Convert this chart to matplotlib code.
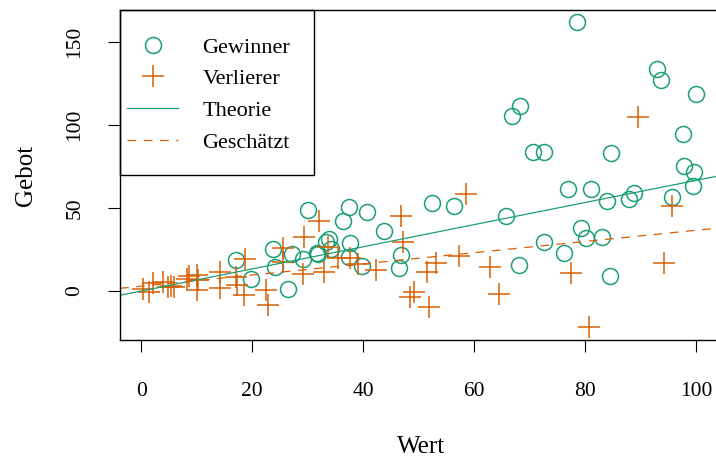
import matplotlib
matplotlib.use("Agg")
import matplotlib.pyplot as plt
from matplotlib.patches import Rectangle
import numpy as np

plt.rcParams['font.family'] = ['Liberation Serif', 'DejaVu Serif']

GREEN = '#1b9e77'
ORANGE = '#d95f02'

# Gewinner (winners): value, bid
win_x = [78.5, 93.0, 93.6, 100.0, 68.2, 66.9, 97.6, 70.6, 72.6, 84.6, 97.8, 99.6,
         76.9, 81.0, 84.0, 87.9, 88.8, 95.7, 99.4, 65.8, 52.5, 56.4, 30.0, 37.5,
         40.7, 36.3, 43.7, 33.9, 33.4, 34.2, 37.7, 31.9, 37.4, 39.8, 46.8, 46.5,
         68.0, 17.1, 19.8, 23.8, 24.1, 27.2, 29.1, 31.7, 26.4, 79.3, 80.2, 83.1,
         72.6, 76.2, 84.5]
win_y = [162.2, 133.5, 126.9, 118.9, 111.6, 105.4, 94.4, 83.6, 83.6, 83.0, 75.5, 71.9,
         61.3, 61.3, 54.2, 55.2, 59.2, 56.4, 63.3, 45.4, 53.0, 51.0, 48.8, 50.4,
         47.8, 42.4, 36.3, 31.3, 29.3, 25.1, 29.1, 22.1, 20.7, 15.2, 21.5, 13.7,
         15.7, 18.5, 7.2, 25.1, 14.6, 22.3, 19.3, 23.1, 1.0, 38.1, 31.9, 32.7,
         29.5, 23.1, 9.2]

# Verlierer (losers): value, bid
los_x = [0.3, 1.5, 2.2, 3.9, 4.9, 5.3, 5.9, 8.2, 8.7, 10.0, 10.1, 10.2, 14.2, 14.2,
         17.1, 17.2, 18.7, 18.6, 22.5, 22.8, 25.6, 25.6, 29.4, 32.1, 29.1, 33.0,
         33.6, 35.5, 37.7, 39.0, 42.3, 46.8, 47.2, 49.1, 48.5, 51.9, 51.5, 53.2,
         57.3, 58.6, 62.9, 64.4, 77.5, 80.7, 89.5, 94.3, 95.7]
los_y = [1.0, -0.4, 4.6, 5.2, 2.2, 3.2, 2.2, 7.0, 9.0, 9.6, 0.6, 6.6, 11.6, 1.6,
         8.6, 3.6, 19.4, -2.6, 0.6, -8.2, 25.8, 17.7, 32.7, 42.2, 10.5, 11.6,
         26.7, 19.7, 19.7, 16.0, 12.7, 45.2, 29.7, -0.4, -3.4, -9.5, 11.6, 16.7,
         21.1, 58.3, 14.6, -1.8, 10.7, -21.9, 104.6, 17.0, 51.2]

# lines: theory (2/3 of value) and estimated regression
theory_slope, theory_icpt = 2 / 3, 0.0
est_slope, est_icpt = 0.337, 2.9

W, H = 716, 459
fig = plt.figure(figsize=(W / 100, H / 100), dpi=100)
ax = fig.add_axes([120 / W, (H - 340) / H, 600 / W, 330 / H])

ax.plot(win_x, win_y, 'o', ls='none', ms=11.5, mfc='none', mec=GREEN, mew=1.1,
        label='Gewinner')
ax.plot(los_x, los_y, '+', ls='none', ms=16, mec=ORANGE, mew=1.1,
        label='Verlierer')
ax.axline((0, theory_icpt), slope=theory_slope, color=GREEN, lw=0.9, label='Theorie')
ax.axline((0, est_icpt), slope=est_slope, color=ORANGE, lw=0.9, dashes=(7, 6),
          label='Geschätzt')

ax.set_xlim(-3.8, 104.3)
ax.set_ylim(-29.5, 169.3)
ax.set_xticks([0, 20, 40, 60, 80, 100])
ax.set_yticks([0, 50, 100, 150])
ax.spines['right'].set_visible(False)
for s in ax.spines.values():
    s.set_linewidth(1.0)
ax.tick_params(length=8.6, width=0.8, labelsize=15.5)
ax.tick_params(axis='x', pad=22)
ax.tick_params(axis='y', pad=17)
for lab in ax.get_yticklabels():
    lab.set_rotation(90)
    lab.set_va('center')

ax.set_xlabel('Wert', fontsize=18)
ax.set_ylabel('Gebot', fontsize=18)
ax.xaxis.set_label_coords(0.502, (340 - 447) / 330)
ax.xaxis.label.set_va('center')
ax.yaxis.set_label_coords((26 - 120) / 600, 0.5)
ax.yaxis.label.set_va('center')

# legend box glued to the top-left corner
fig.patches.append(Rectangle((120 / W, 1 - 175 / H), 194 / W, 165 / H,
                             transform=fig.transFigure, fill=False,
                             edgecolor='black', lw=1.0, zorder=5))
ax.legend(loc='upper left', bbox_to_anchor=(127 / W, 1 - 37 / H),
          bbox_transform=fig.transFigure, frameon=False, borderpad=0,
          borderaxespad=0, fontsize=16, handlelength=2.3, handletextpad=1.1,
          labelspacing=0.5, numpoints=1)

fig.savefig('out.png', dpi=100)
